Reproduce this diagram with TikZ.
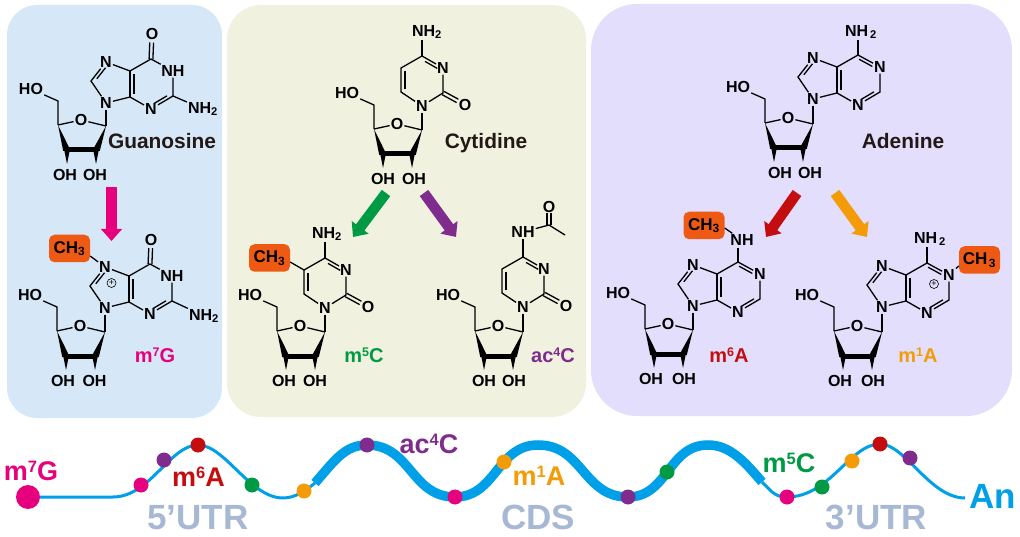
\documentclass[tikz,border=0pt]{standalone}
\usepackage{fontspec}
\setmainfont{Liberation Sans}
\usetikzlibrary{calc,arrows.meta}
\newcommand\myfs[1]{\fontsize{#1}{#1}\selectfont}
\newcommand\supmod[1]{\raisebox{5.7pt}{\myfs{12.5}#1}}
\newcommand\suptrack[1]{\raisebox{7.6pt}{\myfs{16.5}#1}}
\definecolor{pblue}{HTML}{D6E8F7}
\definecolor{pgreen}{HTML}{F0F2DF}
\definecolor{ppurple}{HTML}{E2DEFC}
\definecolor{cpink}{HTML}{E6007E}
\definecolor{cgreen}{HTML}{009944}
\definecolor{cpurple}{HTML}{7F2C8E}
\definecolor{cred}{HTML}{C30D0F}
\definecolor{corange}{HTML}{F39C07}
\definecolor{cbox}{HTML}{EE5A14}
\definecolor{crna}{HTML}{00A0E9}
\definecolor{cregion}{HTML}{A6B8D4}
\definecolor{ctitle}{HTML}{231815}
\tikzset{
  atom/.style={font=\myfs{16}\bfseries,inner sep=1.2pt,outer sep=0pt,text=black},
  bond/.style={line width=1.3pt,black},
  boldbond/.style={line width=5pt,black},
  mebox/.style={fill=cbox,rounded corners=5.5pt,minimum width=41pt,minimum height=27.5pt,inner sep=0pt,font=\myfs{17}\bfseries,text=black},
  plusmark/.style={circle,draw=black,line width=.6pt,inner sep=0pt,minimum size=9pt,font=\myfs{9}},
  title/.style={anchor=base,font=\myfs{20.9}\bfseries,text=ctitle,inner sep=0pt},
  modlabel/.style={anchor=base,font=\myfs{20}\bfseries,inner sep=0pt},
  tracklabel/.style={anchor=base,font=\myfs{27}\bfseries,inner sep=0pt},
  region/.style={anchor=base,font=\myfs{35}\bfseries,text=cregion,inner sep=0pt},
  blockarrow/.style={line width=10.5pt,-{Triangle[width=20.5pt,length=12pt]}},
  rnathin/.style={crna,line width=3pt},
  rnathick/.style={crna,line width=9.5pt},
  site/.style={circle,minimum size=15pt,inner sep=0pt},
}
% name, x, y of C1', x offsets of the two OH labels
\newcommand\ribose[5]{%
\begin{scope}[shift={(#2,#3)},name prefix=#1-]
  \coordinate (C1) at (0,0);
  \node[atom] (O) at (-25,-6) {O};
  \coordinate (C4) at (-48,-1);
  \coordinate (C3) at (-39,24);
  \coordinate (C2) at (-10,24);
  \coordinate (C5p) at (-48,-25);
  \node[atom] (HO) at (-75,-37) {HO};
  \node[atom] (OHa) at (#4,49) {OH};
  \node[atom] (OHb) at (#5,49) {OH};
  \draw[bond] (C1) -- (O);
  \draw[bond] (O) -- (C4);
  \draw[bond] (C4) -- (C5p) -- (HO);
  \fill[black] (C4) -- ($(C3)+(-3.8,1)$) -- ($(C3)+(3.8,1)$) -- cycle;
  \fill[black] (C1) -- ($(C2)+(-3.8,1)$) -- ($(C2)+(3.8,1)$) -- cycle;
  \draw[boldbond] (C3) -- (C2);
  \fill[black] ($(C3)+(-2.8,0)$) -- ($(C3)+(2.8,0)$) -- ($(C3)+(0,14)$) -- cycle;
  \fill[black] ($(C2)+(-2.8,0)$) -- ($(C2)+(2.8,0)$) -- ($(C2)+(0,14)$) -- cycle;
\end{scope}}
\newcommand\dblin[3]{\draw[bond] ($(#1)!.22!(#2)!#3!90:(#2)$) -- ($(#1)!.8!(#2)!#3!90:(#2)$);}
\newcommand\dblpar[2]{%
  \draw[bond] ($(#1)!1.9pt!90:(#2)$) -- ($(#1)!.66!(#2)!1.9pt!90:(#2)$);
  \draw[bond] ($(#1)!1.9pt!-90:(#2)$) -- ($(#1)!.66!(#2)!1.9pt!-90:(#2)$);}
% name, x, y of N9, label of N1, 1 if C6=N1 else 0
\newcommand\purine[5]{%
\begin{scope}[shift={(#2,#3)},name prefix=#1-]
  \node[atom] (N9) at (0,0) {N};
  \coordinate (C8) at (-15,-22);
  \node[atom] (N7) at (0,-41) {N};
  \coordinate (C5) at (24,-32);
  \coordinate (C4) at (24,-6);
  \node[atom] (N3) at (45,6) {N};
  \coordinate (C2) at (67,-7);
  \node[atom] (N1) at (67,-32) {#4};
  \coordinate (C6) at (45,-44);
  \draw[bond] (N9) -- (C8) -- (N7);
  \draw[bond] (N7) -- (C5) -- (C6) -- (N1) -- (C2) -- (N3) -- (C4) -- (N9);
  \draw[bond] (C4) -- (C5);
  \dblin{C8}{N7}{-3.2pt}
  \draw[bond] ($(C5)!.12!(C4)!4pt!90:(C4)$) -- ($(C5)!.88!(C4)!4pt!90:(C4)$);
  \dblin{N3}{C2}{3.2pt}
  \ifnum#5=1 \draw[bond] ($(C6)!.12!(N1)!-3.2pt!90:(N1)$) -- ($(C6)!.72!(N1)!-3.2pt!90:(N1)$);\fi
\end{scope}}
% name, x, y of N1, substituent on C4 is added by the caller
\newcommand\pyrimidine[3]{%
\begin{scope}[shift={(#2,#3)},name prefix=#1-]
  \node[atom] (N1) at (0,0) {N};
  \coordinate (C6) at (-21,-14);
  \coordinate (C5) at (-21,-38);
  \coordinate (C4) at (0,-50);
  \node[atom] (N3) at (21,-38) {N};
  \coordinate (C2) at (21,-13);
  \node[atom] (O2) at (43,-1) {O};
  \draw[bond] (N1) -- (C6) -- (C5) -- (C4) -- (N3) -- (C2) -- (N1);
  \draw[bond] ($(C5)!.12!(C6)!4pt!90:(C6)$) -- ($(C5)!.88!(C6)!4pt!90:(C6)$);
  \dblin{C4}{N3}{-3.2pt}
  \dblpar{C2}{O2}
\end{scope}}
\begin{document}
\begin{tikzpicture}[x=1pt,y=-1pt]
\useasboundingbox (0,0) rectangle (1020,537);
% panels
\fill[pblue,rounded corners=30pt] (7,5) rectangle (222,418);
\fill[pgreen,rounded corners=34pt] (227,5) rectangle (586,417);
\fill[ppurple,rounded corners=46pt] (591,4) rectangle (1012,416);

% --- Guanosine
\ribose{gr}{106}{126}{-41}{-11}
\purine{gb}{106}{103}{NH}{0}
\draw[bond] (gb-N9) -- (gr-C1);
\node[atom] (gO) at (152,34) {O};
\dblpar{gb-C6}{gO}
\node[atom] (gN) at (203,109) {NH\textsubscript{2}};
\draw[bond] (gb-C2) -- (gN);
\node[title] (gT) at (162,149) {Guanosine};

% --- m7G
\ribose{mgr}{105}{332}{-42}{-10.5}
\purine{mgb}{105}{308}{NH}{0}
\draw[bond] (mgb-N9) -- (mgr-C1);
\node[atom] (mgO) at (151,240) {O};
\dblpar{mgb-C6}{mgO}
\node[atom] (mgN) at (204,316) {NH\textsubscript{2}};
\draw[bond] (mgb-C2) -- (mgN);
\node[mebox] (mgB) at (69.5,248.5) {CH\textsubscript{3}};
\draw[bond] (mgB.-20) -- (mgb-N7);
\node[plusmark] (mgP) at (111.5,283) {+};
\node[modlabel,text=cpink] (mgT) at (155,362) {m\supmod{7}G};

% --- Cytidine
\ribose{cr}{422}{130}{-39}{-8}
\pyrimidine{cb}{422}{106}
\draw[bond] (cb-N1) -- (cr-C1);
\node[atom] (cN) at (427,32) {NH\textsubscript{2}};
\draw[bond] (cb-C4) -- (422,40);
\node[title] (cT) at (486,149) {Cytidine};

% --- m5C
\ribose{mcr}{325}{332}{-41}{-10}
\pyrimidine{mcb}{325}{308}
\draw[bond] (mcb-N1) -- (mcr-C1);
\node[atom] (mcN) at (327,234) {NH\textsubscript{2}};
\draw[bond] (mcb-C4) -- (325,242);
\node[mebox] (mcB) at (269.5,258) {CH\textsubscript{3}};
\draw[bond] (mcB.-11) -- (mcb-C5);
\node[modlabel,text=cgreen] (mcT) at (364,362) {m\supmod{5}C};

% --- ac4C
\ribose{acr}{523}{332}{-39}{-9}
\pyrimidine{acb}{523}{307}
\draw[bond] (acb-N1) -- (acr-C1);
\node[atom] (acN) at (523,232) {NH};
\draw[bond] (acb-C4) -- (acN);
\coordinate (acC) at (549,225);
\coordinate (acMe) at (565,235);
\node[atom] (acO) at (549,207) {O};
\draw[bond] (acN) -- (acC) -- (acMe);
\dblpar{acC}{acO}
\node[modlabel,text=cpurple] (acT) at (553,362) {ac\supmod{4}C};

% --- Adenine
\ribose{ar}{813}{124}{-33}{-3}
\purine{ab}{813}{99}{N}{1}
\draw[bond] (ab-N9) -- (ar-C1);
\node[atom] (aN) at (861,32) {NH\hspace{2pt}\textsubscript{2}};
\draw[bond] (ab-C6) -- (858,40);
\node[title] (aT) at (903,149) {Adenine};

% --- m6A
\ribose{m6r}{693}{330}{-42}{-9}
\purine{m6b}{693}{306}{N}{1}
\draw[bond] (m6b-N9) -- (m6r-C1);
\node[atom] (m6N) at (742,240) {NH};
\draw[bond] (m6b-C6) -- (738,248);
\node[mebox] (m6B) at (704,225.5) {CH\textsubscript{3}};
\draw[bond] (m6B.-7) -- (m6N);
\node[modlabel,text=cred] (m6T) at (729,362) {m\supmod{6}A};

% --- m1A
\ribose{m1r}{882}{332}{-42}{-9}
\purine{m1b}{882}{307}{N}{1}
\draw[bond] (m1b-N9) -- (m1r-C1);
\node[atom] (m1N) at (930,239) {NH\hspace{2pt}\textsubscript{2}};
\draw[bond] (m1b-C6) -- (927,247);
\node[mebox] (m1B) at (979.5,260) {CH\hspace{1.5pt}\textsubscript{3}};
\draw[bond] (m1B.196) -- (m1b-N1);
\node[plusmark] (m1P) at (934,284) {+};
\node[modlabel,text=corange] (m1T) at (918,362) {m\supmod{1}A};

% --- reaction arrows
\coordinate (a1s) at (111.5,187); \coordinate (a1e) at (111.5,241);
\coordinate (a2s) at (386,193);   \coordinate (a2e) at (353,237);
\coordinate (a3s) at (424,193);   \coordinate (a3e) at (456,237);
\coordinate (a4s) at (797,193);   \coordinate (a4e) at (766,237);
\coordinate (a5s) at (835,193);   \coordinate (a5e) at (867,237);
\draw[blockarrow,cpink] (a1s) -- (a1e);
\draw[blockarrow,cgreen] (a2s) -- (a2e);
\draw[blockarrow,cpurple] (a3s) -- (a3e);
\draw[blockarrow,cred] (a4s) -- (a4e);
\draw[blockarrow,corange] (a5s) -- (a5e);

% --- RNA strand
\coordinate (r0) at (28,497);
\coordinate (r1) at (113,497);
\coordinate (r2) at (198,445);
\coordinate (r3) at (283,498);
\coordinate (r4) at (315,483);
\coordinate (r5) at (367,445);
\coordinate (r6) at (455,497);
\coordinate (r7) at (538,445);
\coordinate (r8) at (628,497);
\coordinate (r9) at (708,445);
\coordinate (r10) at (762,482);
\coordinate (r11) at (787,497);
\coordinate (r12) at (880,444);
\coordinate (r13) at (965,498);
\draw[rnathin] (r0) -- (r1) .. controls +(37,0) and +(-28,0) .. (r2)
  .. controls +(27,0) and +(-33,0) .. (r3) .. controls +(12,0) and +(-10,8) .. (r4);
\draw[rnathick] (r4) .. controls +(20,-23) and +(-22,0) .. (r5)
  .. controls +(44,0) and +(-44,0) .. (r6) .. controls +(41,0) and +(-41,0) .. (r7)
  .. controls +(45,0) and +(-45,0) .. (r8) .. controls +(40,0) and +(-40,0) .. (r9)
  .. controls +(22,0) and +(-17,-20) .. (r10);
\draw[rnathin] (r10) .. controls +(10,10) and +(-12,0) .. (r11)
  .. controls +(43,0) and +(-30,0) .. (r12) .. controls +(25,0) and +(-35,0) .. (r13);
% --- sites
\node[circle,minimum size=24pt,inner sep=0pt,fill=cpink] (s0) at (r0) {};
\node[site,fill=cpink] (s1) at (141,485) {};
\node[site,fill=cpurple] (s2) at (164,460) {};
\node[site,fill=cred] (s3) at (198,445) {};
\node[site,fill=cgreen] (s4) at (252,485) {};
\node[site,fill=corange] (s5) at (304,491) {};
\node[site,fill=cpurple] (s6) at (367,445) {};
\node[site,fill=cpink] (s7) at (455,497) {};
\node[site,fill=corange] (s8) at (504,462) {};
\node[site,fill=cpurple] (s9) at (628,497) {};
\node[site,fill=cgreen] (s10) at (667,472) {};
\node[site,fill=cpink] (s11) at (787,497) {};
\node[site,fill=cgreen] (s12) at (822,487) {};
\node[site,fill=corange] (s13) at (852,461) {};
\node[site,fill=cred] (s14) at (880,444) {};
\node[site,fill=cpurple] (s15) at (910,458) {};
% --- strand labels
\node[tracklabel,text=cpink] (t1) at (31,480) {m\suptrack{7}G};
\node[tracklabel,text=cred] (t2) at (198.5,486) {m\suptrack{6}A};
\node[tracklabel,text=cpurple] (t3) at (429,453) {ac\suptrack{4}C};
\node[tracklabel,text=corange] (t4) at (539,485) {m\suptrack{1}A};
\node[tracklabel,text=cgreen] (t5) at (789,472) {m\suptrack{5}C};
\node[anchor=base,font=\myfs{35}\bfseries,text=crna,inner sep=0pt] (t6) at (992.5,508) {An};
\node[region] (u1) at (198,529.5) {5’UTR};
\node[region] (u2) at (538,529.5) {CDS};
\node[region] (u3) at (876.5,529.5) {3’UTR};
\end{tikzpicture}
\end{document}
